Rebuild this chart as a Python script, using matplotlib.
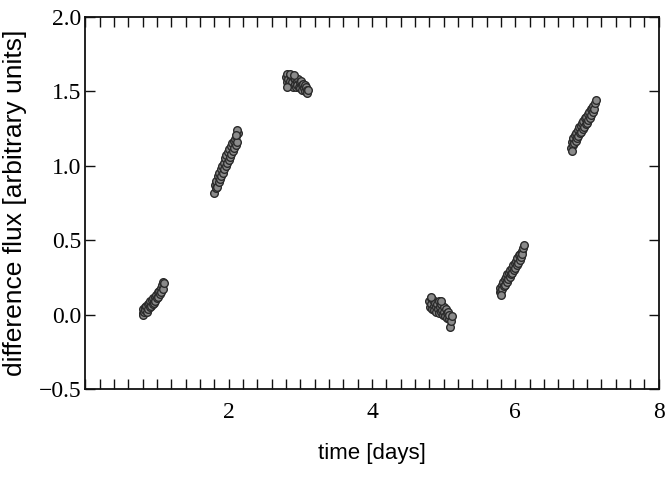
import matplotlib
matplotlib.use("Agg")
import matplotlib.pyplot as plt
from matplotlib.ticker import MultipleLocator, FixedLocator, FixedFormatter

# ---- data ----
c1_t = [0.80, 0.81, 0.81, 0.82, 0.83, 0.84, 0.85, 0.86, 0.87, 0.88, 0.89, 0.90, 0.91, 0.92, 0.93, 0.94,
        0.95, 0.96, 0.97, 0.98, 0.99, 1.00, 1.01, 1.02, 1.03, 1.04, 1.05, 1.06, 1.07, 1.08, 1.09, 1.10]
c1_f = [0.01, 0.04, 0.00, 0.02, 0.05, 0.03, 0.06, 0.02, 0.07, 0.04, 0.08, 0.05, 0.09, 0.06, 0.10, 0.07,
        0.11, 0.08, 0.12, 0.09, 0.13, 0.11, 0.15, 0.12, 0.16, 0.14, 0.18, 0.15, 0.20, 0.17, 0.22, 0.21]

c2_t = [1.80, 1.81, 1.82, 1.83, 1.84, 1.85, 1.86, 1.87, 1.88, 1.89, 1.90, 1.91, 1.92, 1.93, 1.94,
        1.95, 1.96, 1.97, 1.98, 1.99, 2.00, 2.01, 2.02, 2.03, 2.04, 2.05, 2.06, 2.07, 2.08, 2.09,
        2.10, 2.11, 2.12, 2.13, 2.12, 2.10]
c2_f = [0.82, 0.87, 0.85, 0.90, 0.86, 0.93, 0.89, 0.95, 0.91, 0.98, 0.93, 1.00, 0.95, 1.02, 0.98,
        1.05, 1.00, 1.07, 1.02, 1.09, 1.04, 1.11, 1.06, 1.13, 1.08, 1.15, 1.10, 1.17, 1.12, 1.18,
        1.14, 1.20, 1.16, 1.22, 1.24, 1.21]

c3_t = [2.80, 2.81, 2.82, 2.83, 2.84, 2.85, 2.86, 2.87, 2.88, 2.89, 2.90, 2.91, 2.92, 2.93, 2.94,
        2.95, 2.96, 2.97, 2.98, 2.99, 3.00, 3.01, 3.02, 3.03, 3.04, 3.05, 3.06, 3.07, 3.08, 3.09,
        3.10, 3.11, 2.81, 2.86, 2.91]
c3_f = [1.60, 1.56, 1.62, 1.58, 1.55, 1.61, 1.57, 1.54, 1.60, 1.56, 1.53, 1.59, 1.55, 1.58, 1.53,
        1.57, 1.54, 1.58, 1.53, 1.56, 1.52, 1.57, 1.54, 1.51, 1.55, 1.52, 1.54, 1.50, 1.53, 1.51,
        1.49, 1.51, 1.53, 1.62, 1.61]

c4_t = [4.80, 4.81, 4.82, 4.83, 4.84, 4.85, 4.86, 4.87, 4.88, 4.89, 4.90, 4.91, 4.92, 4.93, 4.94,
        4.95, 4.96, 4.97, 4.98, 4.99, 5.00, 5.01, 5.02, 5.03, 5.04, 5.05, 5.06, 5.07, 5.08, 5.09,
        5.10, 5.11, 4.82, 4.97]
c4_f = [0.09, 0.05, 0.11, 0.07, 0.04, 0.10, 0.06, 0.03, 0.08, 0.05, 0.02, 0.07, 0.04, 0.09, 0.01,
        0.05, 0.02, 0.07, 0.03, 0.00, 0.05, 0.02, -0.01, 0.04, 0.01, -0.02, 0.02, -0.03, 0.00, -0.08,
        -0.04, -0.01, 0.12, 0.09]

c5_t = [5.78, 5.79, 5.80, 5.81, 5.82, 5.83, 5.84, 5.85, 5.86, 5.87, 5.88, 5.89, 5.90, 5.91, 5.92,
        5.93, 5.94, 5.95, 5.96, 5.97, 5.98, 5.99, 6.00, 6.01, 6.02, 6.03, 6.04, 6.05, 6.06, 6.07,
        6.08, 6.09, 6.10, 6.11, 6.12, 5.80]
c5_f = [0.15, 0.18, 0.16, 0.20, 0.17, 0.22, 0.19, 0.24, 0.20, 0.25, 0.22, 0.27, 0.24, 0.28, 0.25,
        0.30, 0.27, 0.31, 0.28, 0.33, 0.30, 0.35, 0.31, 0.36, 0.33, 0.38, 0.35, 0.40, 0.37, 0.41,
        0.39, 0.43, 0.41, 0.45, 0.47, 0.13]

c6_t = [6.78, 6.79, 6.80, 6.81, 6.82, 6.83, 6.84, 6.85, 6.86, 6.87, 6.88, 6.89, 6.90, 6.91, 6.92,
        6.93, 6.94, 6.95, 6.96, 6.97, 6.98, 6.99, 7.00, 7.01, 7.02, 7.03, 7.04, 7.05, 7.06, 7.07,
        7.08, 7.09, 7.10, 7.11, 7.12, 6.79]
c6_f = [1.12, 1.16, 1.14, 1.19, 1.15, 1.21, 1.17, 1.22, 1.19, 1.24, 1.20, 1.26, 1.22, 1.27, 1.23,
        1.29, 1.25, 1.30, 1.26, 1.32, 1.28, 1.33, 1.29, 1.35, 1.31, 1.36, 1.32, 1.38, 1.34, 1.39,
        1.36, 1.40, 1.38, 1.42, 1.44, 1.10]

times = [c1_t, c2_t, c3_t, c4_t, c5_t, c6_t]
fluxes = [c1_f, c2_f, c3_f, c4_f, c5_f, c6_f]

x_tick_values = [2, 4, 6, 8]
x_tick_labels = ["2", "4", "6", "8"]
y_tick_values = [-0.5, 0.0, 0.5, 1.0, 1.5, 2.0]
y_tick_labels = ["\u22120.5", "0.0", "0.5", "1.0", "1.5", "2.0"]

# ---- figure ----
fig = plt.figure(figsize=(6.66, 5.0), dpi=100)
ax = fig.add_axes([0.128, 0.222, 0.861, 0.744])

for t, f in zip(times, fluxes):
    ax.plot(t, f, linestyle="none", marker="o", markersize=5.5,
            markerfacecolor="#8a8a8a", markeredgecolor="#2a2a2a", markeredgewidth=1.0)

ax.set_xlim(0, 8)
ax.set_ylim(-0.5, 2.0)

ax.xaxis.set_major_locator(FixedLocator(x_tick_values))
ax.xaxis.set_major_formatter(FixedFormatter(x_tick_labels))
ax.xaxis.set_minor_locator(MultipleLocator(0.2))
ax.yaxis.set_major_locator(FixedLocator(y_tick_values))
ax.yaxis.set_major_formatter(FixedFormatter(y_tick_labels))

ax.tick_params(which="both", direction="in", top=True, right=True, width=1.0, color="#111111")
ax.tick_params(which="major", length=7, pad=9)
ax.tick_params(which="minor", length=7)
for lab in ax.get_xticklabels() + ax.get_yticklabels():
    lab.set_fontfamily("Liberation Serif")
    lab.set_fontsize(17)
ax.tick_params(axis="y", pad=3)

for s in ax.spines.values():
    s.set_linewidth(1.3)
    s.set_color("#111111")

ax.set_xlabel("time [days]", fontfamily="Liberation Sans", fontsize=16, labelpad=15)
ax.set_ylabel("difference flux [arbitrary units]", fontfamily="Liberation Sans", fontsize=19, labelpad=8)

fig.savefig("out.png", dpi=100)
